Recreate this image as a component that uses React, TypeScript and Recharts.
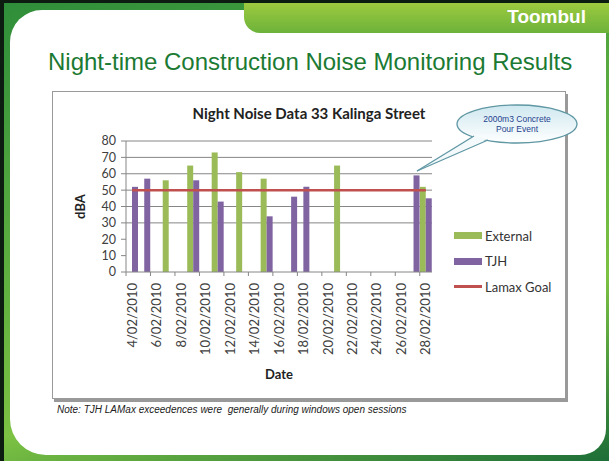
import React from 'react'
import {
  ComposedChart,
  Bar,
  Line,
  XAxis,
  YAxis,
  CartesianGrid,
  Legend,
} from 'recharts'

// one category per night, 4 Feb to 28 Feb 2010
const dates = [
  '4/02/2010', '5/02/2010', '6/02/2010', '7/02/2010', '8/02/2010',
  '9/02/2010', '10/02/2010', '11/02/2010', '12/02/2010', '13/02/2010',
  '14/02/2010', '15/02/2010', '16/02/2010', '17/02/2010', '18/02/2010',
  '19/02/2010', '20/02/2010', '21/02/2010', '22/02/2010', '23/02/2010',
  '24/02/2010', '25/02/2010', '26/02/2010', '27/02/2010', '28/02/2010',
]

const external = [
  null, null, null, 56, null, 65, null, 73, null, 61, null, 57, null,
  null, null, null, null, 65, null, null, null, null, null, null, 52,
]

const tjh = [
  52, 57, null, null, null, 56, null, 43, null, null, null, 34, null,
  46, 52, null, null, null, null, null, null, null, null, 59, 45,
]

const lamaxGoal = [
  50, 50, 50, 50, 50, 50, 50, 50, 50, 50, 50, 50, 50,
  50, 50, 50, 50, 50, 50, 50, 50, 50, 50, 50, 50,
]

const yTicks = [0, 10, 20, 30, 40, 50, 60, 70, 80]
const legendOrder = ['External', 'TJH', 'Lamax Goal']

const data = dates.map((date, i) => ({
  date,
  external: external[i],
  tjh: tjh[i],
  goal: lamaxGoal[i],
}))

const chartFont = 'Lato, "Open Sans", sans-serif'
const axisGrey = '#868686'

function DateTick(props: any) {
  const { x, y, payload } = props
  const off = payload && typeof payload.offset === 'number' ? payload.offset : 6.12
  return (
    <g>
      <line x1={x - off} x2={x - off} y1={y} y2={y + 4} stroke={axisGrey} />
      <text
        x={x}
        y={y + 11}
        dy="0.35em"
        textAnchor="end"
        transform={`rotate(-90 ${x} ${y + 11})`}
        fill="#404040"
        fontSize={13}
        fontFamily={chartFont}
      >
        {payload.value}
      </text>
    </g>
  )
}

function LegendBox(props: any) {
  const items = [...(props.payload || [])].sort(
    (a: any, b: any) => legendOrder.indexOf(a.value) - legendOrder.indexOf(b.value)
  )
  return (
    <div style={{ fontFamily: chartFont, fontSize: 13, color: '#333' }}>
      {items.map((it: any) => (
        <div key={it.value} style={{ display: 'flex', alignItems: 'center', height: 25.5 }}>
          {it.type === 'line' ? (
            <div style={{ width: 28, height: 3, background: it.color }} />
          ) : (
            <div style={{ width: 28, height: 7, background: it.color }} />
          )}
          <span style={{ marginLeft: 3 }}>{it.value}</span>
        </div>
      ))}
    </div>
  )
}

export default function App() {
  return (
    <div
      style={{
        position: 'absolute',
        left: 0,
        top: 0,
        width: 609,
        height: 461,
        background: '#0c1c10',
        overflow: 'hidden',
        fontFamily: '"Liberation Sans", Arial, sans-serif',
      }}
    >
      {/* green frame */}
      <div
        style={{
          position: 'absolute',
          left: 4,
          top: 3,
          width: 605,
          height: 458,
          background: 'linear-gradient(165deg, #2f8e3a 0%, #5fb040 45%, #7cc243 70%, #1d6e38 100%)',
        }}
      />
      {/* white panel */}
      <div
        style={{
          position: 'absolute',
          left: 10,
          top: 10,
          width: 596,
          height: 445,
          background: '#fff',
          borderRadius: '32px 0 26px 36px',
        }}
      />
      {/* header tab */}
      <div
        style={{
          position: 'absolute',
          left: 244,
          top: 3,
          width: 365,
          height: 30,
          background: 'linear-gradient(to bottom, #9dca3f, #6cb23a)',
          borderBottomLeftRadius: 16,
          color: '#fff',
          fontWeight: 'bold',
          fontSize: 19,
          textAlign: 'right',
          lineHeight: '28px',
          paddingRight: 23,
          boxSizing: 'border-box',
        }}
      >
        Toombul
      </div>

      <div
        style={{
          position: 'absolute',
          left: 48,
          top: 50,
          fontSize: 24,
          lineHeight: '24px',
          color: '#1b7a33',
          whiteSpace: 'nowrap',
        }}
      >
        Night-time Construction Noise Monitoring Results
      </div>

      {/* chart box */}
      <div
        style={{
          position: 'absolute',
          left: 52,
          top: 91,
          width: 514,
          height: 308,
          border: '1px solid #9a9a9a',
          boxSizing: 'border-box',
          boxShadow: '2px 3px 0 #999',
          background: '#fff',
        }}
      />
      <div
        style={{
          position: 'absolute',
          left: 52,
          top: 104,
          width: 514,
          textAlign: 'center',
          fontFamily: chartFont,
          fontWeight: 'bold',
          fontSize: 15,
          color: '#222',
        }}
      >
        Night Noise Data 33 Kalinga Street
      </div>

      <div style={{ position: 'absolute', left: 52, top: 91 }}>
        <ComposedChart
          width={514}
          height={308}
          data={data}
          margin={{ top: 50, right: 134, bottom: 0, left: 0 }}
          barCategoryGap={0}
          barGap={0}
        >
          <CartesianGrid
            vertical={false}
            horizontalValues={[30, 40, 50, 60, 70, 80]}
            stroke={axisGrey}
          />
          <XAxis
            dataKey="date"
            interval={1}
            tickLine={false}
            tickSize={0}
            tickMargin={0}
            height={127}
            axisLine={{ stroke: axisGrey }}
            tick={<DateTick />}
            label={{
              value: 'Date',
              position: 'insideBottom',
              offset: 20,
              style: { fontFamily: chartFont, fontWeight: 'bold', fontSize: 13, fill: '#222' },
            }}
          />
          <YAxis
            domain={[0, 80]}
            ticks={yTicks}
            interval={0}
            width={74}
            tickSize={5}
            tickMargin={5}
            axisLine={{ stroke: axisGrey }}
            tickLine={{ stroke: axisGrey }}
            tick={{ fill: '#404040', fontSize: 12.5, fontFamily: chartFont }}
            label={{
              value: 'dBA',
              angle: -90,
              position: 'insideLeft',
              offset: 28,
              style: { fontFamily: chartFont, fontWeight: 'bold', fontSize: 13, fill: '#222', textAnchor: 'middle' },
            }}
          />
          <Legend
            layout="vertical"
            align="center"
            verticalAlign="middle"
            wrapperStyle={{ left: 402, top: 132, width: 110 }}
            content={<LegendBox />}
          />
          <Bar dataKey="external" name="External" fill="#9bbb59" isAnimationActive={false} />
          <Bar dataKey="tjh" name="TJH" fill="#8064a2" isAnimationActive={false} />
          <Line
            dataKey="goal"
            name="Lamax Goal"
            type="linear"
            stroke="#c0504d"
            strokeWidth={2.5}
            dot={false}
            legendType="line"
            isAnimationActive={false}
          />
        </ComposedChart>
      </div>

      {/* callout */}
      <svg
        width={609}
        height={461}
        style={{ position: 'absolute', left: 0, top: 0, pointerEvents: 'none' }}
      >
        <defs>
          <linearGradient id="callFill" x1="0" y1="0" x2="0" y2="1">
            <stop offset="0%" stopColor="#cfe8f0" />
            <stop offset="100%" stopColor="#ffffff" />
          </linearGradient>
        </defs>
        <ellipse cx={517} cy={124} rx={60} ry={19} fill="url(#callFill)" stroke="#5f97a3" strokeWidth={1.3} />
        <polygon points="475,135 417,171 487,139" fill="#f4fafc" />
        <line x1={474} y1={136} x2={417} y2={171} stroke="#5f97a3" strokeWidth={1.3} />
        <line x1={488} y1={140} x2={417} y2={171} stroke="#5f97a3" strokeWidth={1.3} />
        <text x={517} y={122} textAnchor="middle" fontSize={8.5} fill="#1f3f8f" fontFamily="Liberation Sans, Arial">
          2000m3 Concrete
        </text>
        <text x={517} y={132} textAnchor="middle" fontSize={8.5} fill="#1f3f8f" fontFamily="Liberation Sans, Arial">
          Pour Event
        </text>
      </svg>

      <div
        style={{
          position: 'absolute',
          left: 57,
          top: 404,
          fontSize: 10,
          fontStyle: 'italic',
          color: '#222',
          whiteSpace: 'pre',
        }}
      >
        Note: TJH LAMax exceedences were  generally during windows open sessions
      </div>
    </div>
  )
}
